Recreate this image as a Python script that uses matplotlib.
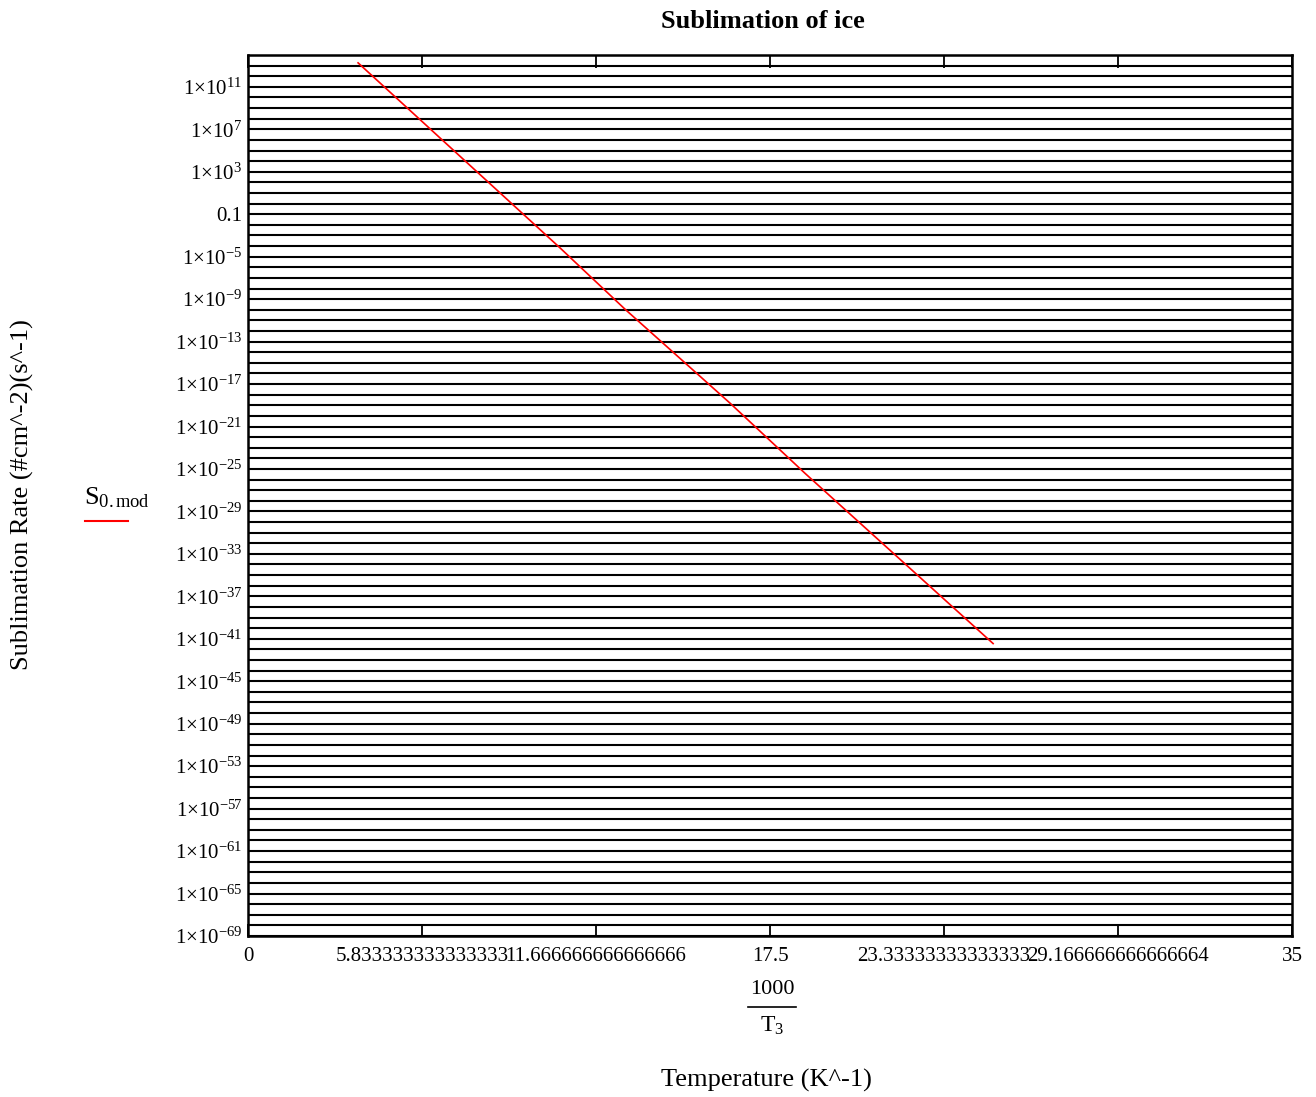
import numpy as np
import matplotlib
matplotlib.use("Agg")
import matplotlib.pyplot as plt
from matplotlib.ticker import FixedLocator, FuncFormatter

plt.rcParams["font.family"] = ["Liberation Serif", "DejaVu Serif"]
plt.rcParams["mathtext.fontset"] = "custom"
plt.rcParams["mathtext.rm"] = "Liberation Serif"
plt.rcParams["mathtext.it"] = "Liberation Serif:italic"
plt.rcParams["mathtext.bf"] = "Liberation Serif:bold"

# Sublimation rate of ice versus inverse temperature (1000/T3)
inv_T3 = [3.69, 10.46, 12.64, 16.16, 18.67, 24.98]
log_S0_mod = [13.26, -4.17, -9.95, -18.8, -25.4, -41.45]

x_ticks = [0, 35 / 6, 2 * 35 / 6, 17.5, 4 * 35 / 6, 5 * 35 / 6, 35]
x_tick_labels = ["0", "5.833333333333333", "11.666666666666666", "17.5",
                 "23.33333333333333", "29.166666666666664", "35"]
y_label_exponents = list(range(11, -70, -4))
y_min_exp, y_max_exp = -69, 14

W, H = 1316, 1097
fig = plt.figure(figsize=(W / 100, H / 100), dpi=100)
ax = fig.add_axes([248 / W, 1 - 936 / H, (1292 - 248) / W, (936 - 55) / H])

S0_mod = 10.0 ** np.array(log_S0_mod)
ax.plot(inv_T3, S0_mod, color="red", lw=1.2)

ax.set_yscale("log")
ax.set_xlim(0, 35)
ax.set_ylim(10.0 ** y_min_exp, 10.0 ** y_max_exp)

# horizontal grid at every decade, labels every fourth decade
ax.yaxis.set_major_locator(FixedLocator([10.0 ** e for e in range(y_min_exp, y_max_exp + 1)]))
ax.yaxis.set_minor_locator(FixedLocator([]))


def ylab(v, pos):
    e = int(round(np.log10(v)))
    if e not in y_label_exponents and e != y_min_exp:
        return ""
    if e == -1:
        return "0.1"
    return r"$1{\times}10^{%d}$" % e


ax.yaxis.set_major_formatter(FuncFormatter(ylab))
ax.tick_params(axis="y", which="both", length=0, pad=4, labelsize=15)
ax.grid(axis="y", which="major", color="black", lw=1.5)

ax.set_xticks(x_ticks)
ax.set_xticklabels(x_tick_labels, fontsize=15)
ax.tick_params(axis="x", direction="in", length=9, width=1.3, top=True,
               bottom=True, pad=8, color="black")

for sp in ax.spines.values():
    sp.set_linewidth(1.8)
    sp.set_color("black")

# title and axis captions
fig.text(763 / W, 1 - 22 / H, "Sublimation of ice", ha="center", va="center",
         fontsize=19, fontweight="bold")
fig.text(772 / W, 1 - 990 / H, "1000", ha="center", va="center", fontsize=16)
fig.add_artist(plt.Line2D([748 / W, 796 / W], [1 - 1007 / H, 1 - 1007 / H],
                          color="black", lw=1.2))
fig.text(772 / W, 1 - 1026 / H, r"$\mathrm{T}_{3}$", ha="center", va="center", fontsize=17)
fig.text(766 / W, 1 - 1080 / H, "Temperature (K^-1)", ha="center", va="center",
         fontsize=19)
fig.text(22 / W, 1 - 495 / H, "Sublimation Rate (#cm^-2)(s^-1)", ha="center",
         va="center", rotation=90, fontsize=19)

# legend entry
fig.text(84 / W, 1 - 498 / H, r"$\mathrm{S}_{\mathrm{0.mod}}$", ha="left",
         va="center", fontsize=19)
fig.add_artist(plt.Line2D([85 / W, 128 / W], [1 - 521 / H, 1 - 521 / H],
                          color="red", lw=1.5))

fig.savefig("out.png", dpi=100, facecolor="white")
